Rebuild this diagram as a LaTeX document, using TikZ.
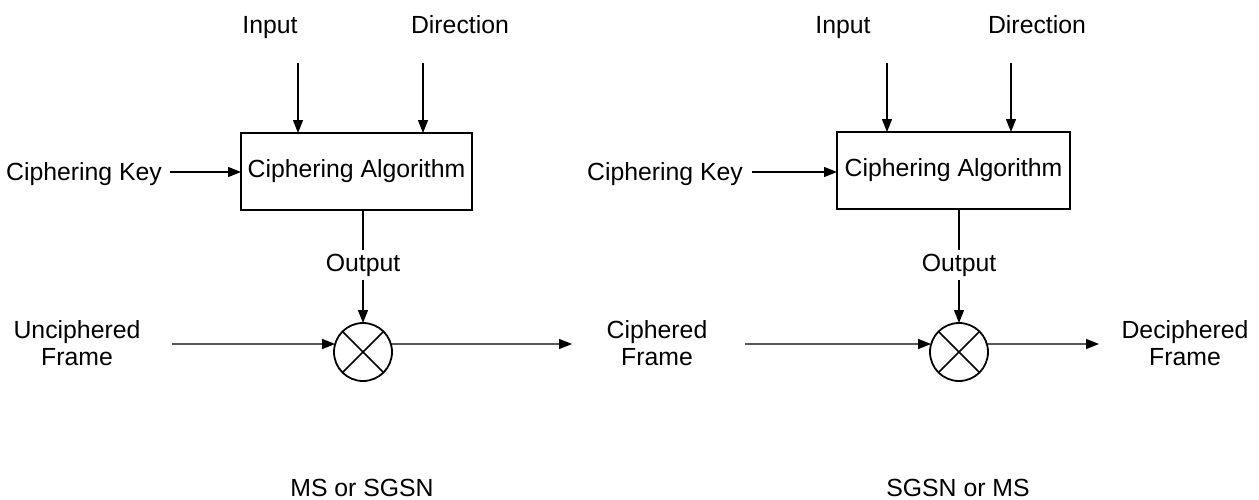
\documentclass[tikz,border=0pt]{standalone}
\usepackage{fontspec}
\setmainfont{Liberation Sans}
\usetikzlibrary{arrows.meta}
\begin{document}
\begin{tikzpicture}[x=1pt,y=-1pt,
  lbl/.style={font=\fontsize{24.8}{27}\selectfont, inner sep=0pt, anchor=base},
  lbl2/.style={font=\fontsize{24.8}{27}\selectfont, inner sep=0pt, align=center},
  algbox/.style={draw, line width=1.6pt, minimum width=231pt, minimum height=77pt, inner sep=0pt, outer sep=0pt, font=\fontsize{24.8}{27}\selectfont},
  xorc/.style={draw, circle, minimum size=58pt, line width=1.8pt, inner sep=0pt, outer sep=0pt},
  arr/.style={line width=1.2pt, -{Triangle[length=13pt,width=10pt]}},
  ln/.style={line width=1.2pt},
  xln/.style={line width=1.6pt}]
\useasboundingbox (0,0) rectangle (1259,499);

% ---------- left side ----------
\node[algbox] (box1) at (356.5,171.5) {Ciphering Algorithm};
\node[lbl] (in1) at (270,33) {Input};
\node[lbl] (dir1) at (460,33) {Direction};
\coordinate (in1s) at (298,63);
\coordinate (dir1s) at (423,63);
\draw[arr] (in1s) -- (in1s |- box1.north);
\draw[arr] (dir1s) -- (dir1s |- box1.north);

\node[lbl] (key1) at (84,180) {Ciphering Key};
\coordinate (k1s) at (170,172);
\draw[arr] (k1s) -- (k1s -| box1.west);

\node[lbl] (out1) at (363,271) {Output};
\node[xorc] (x1) at (363,352) {};
\draw[ln] (out1 |- box1.south) -- ([yshift=3pt]out1.north);
\draw[arr] ([yshift=-4pt]out1.south) -- (x1.north);
\draw[xln] (x1.45) -- (x1.225);
\draw[xln] (x1.135) -- (x1.315);

\node[lbl2] (uf) at (77,343) {Unciphered\\Frame};
\coordinate (ufs) at (172,344);
\draw[arr] (ufs) -- (x1.164);
\coordinate (c1e) at (572,344);
\draw[arr] (x1.16) -- (c1e);

\node[lbl2] (cf) at (657,343) {Ciphered\\Frame};
\node[lbl] (ms1) at (362,496) {MS or SGSN};

% ---------- right side ----------
\node[algbox, minimum width=233pt] (box2) at (953.5,170.5) {Ciphering Algorithm};
\node[lbl] (in2) at (843,33) {Input};
\node[lbl] (dir2) at (1037,33) {Direction};
\coordinate (in2s) at (887,63);
\coordinate (dir2s) at (1011,63);
\draw[arr] (in2s) -- (in2s |- box2.north);
\draw[arr] (dir2s) -- (dir2s |- box2.north);

\node[lbl] (key2) at (665,180) {Ciphering Key};
\coordinate (k2s) at (752,172);
\draw[arr] (k2s) -- (k2s -| box2.west);

\node[lbl] (out2) at (959,271) {Output};
\node[xorc] (x2) at (959,352) {};
\draw[ln] (out2 |- box2.south) -- ([yshift=3pt]out2.north);
\draw[arr] ([yshift=-4pt]out2.south) -- (x2.north);
\draw[xln] (x2.45) -- (x2.225);
\draw[xln] (x2.135) -- (x2.315);

\coordinate (cfs) at (745,344);
\draw[arr] (cfs) -- (x2.164);
\coordinate (c2e) at (1099,344);
\draw[arr] (x2.16) -- (c2e);

\node[lbl2] (df) at (1185,343) {Deciphered\\Frame};
\node[lbl] (ms2) at (958,496) {SGSN or MS};
\end{tikzpicture}
\end{document}
